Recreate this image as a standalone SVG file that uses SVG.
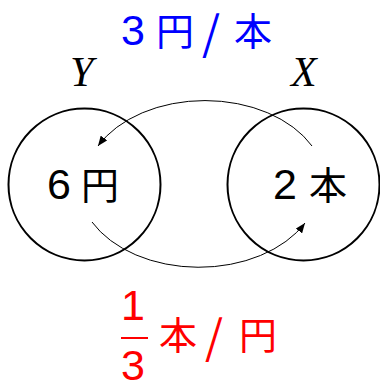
<svg xmlns="http://www.w3.org/2000/svg" width="380" height="383" viewBox="0 0 380 383">
<style>
.node{fill:none;stroke:#000;stroke-width:2}
.arc{fill:none;stroke:#000;stroke-width:1}
.t{font-family:"Noto Sans CJK JP","Liberation Sans",sans-serif;font-size:38px}
.d{font-family:"Liberation Sans",sans-serif;font-size:43px}
.s{font-size:46px}
.v{font-family:"Liberation Serif",serif;font-style:italic;font-size:42px;fill:#000}
</style>
<defs>
<marker id="ah" markerWidth="10" markerHeight="8" refX="10" refY="4" orient="auto" markerUnits="userSpaceOnUse">
<path d="M0,0 L10,4 L0,8 Z" fill="#000"/>
</marker>
</defs>
<rect width="380" height="383" fill="#fff"/>
<text class="t" fill="#0000ff" y="45"><tspan class="d" x="121">3</tspan><tspan x="156">円</tspan><tspan class="s" x="202" y="50">/</tspan><tspan x="234" y="45">本</tspan></text>
<text class="v" x="70" y="86">Y</text>
<text class="v" x="291" y="86">X</text>
<g id="nodeY">
<circle class="node" cx="84.5" cy="184.5" r="76"/>
<text class="t" fill="#000" y="199"><tspan class="d" x="47">6</tspan><tspan x="81">円</tspan></text>
</g>
<g id="nodeX">
<circle class="node" cx="303.5" cy="184.5" r="76"/>
<text class="t" fill="#000" y="199"><tspan class="d" x="273">2</tspan><tspan x="309">本</tspan></text>
</g>
<g id="connectors">
<path class="arc" d="M312,146 A120 83 0 0 0 98,146" marker-end="url(#ah)"/>
<path class="arc" d="M92,222 A120 83 0 0 0 305,223" marker-end="url(#ah)"/>
</g>
<g id="rate" fill="#ff0000">
<text class="d" fill="#ff0000" text-anchor="middle" x="133" y="320">1</text>
<line x1="121" y1="338" x2="148" y2="338" stroke="#ff0000" stroke-width="2"/>
<text class="d" fill="#ff0000" text-anchor="middle" x="133" y="380">3</text>
<text class="t" fill="#ff0000" y="349"><tspan x="159">本</tspan><tspan class="s" x="205" y="354">/</tspan><tspan x="239" y="349">円</tspan></text>
</g>
</svg>
